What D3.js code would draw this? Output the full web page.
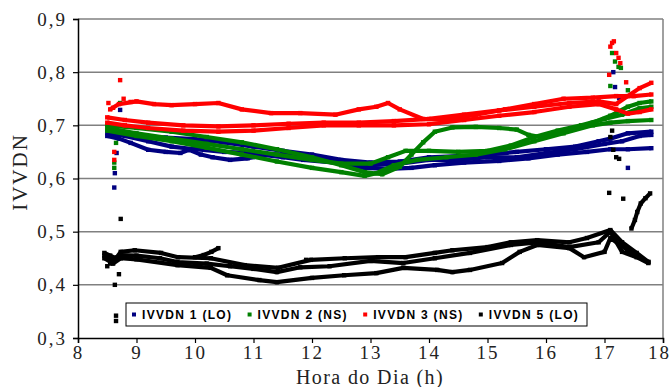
<!DOCTYPE html>
<html>
<head>
<meta charset="utf-8">
<script src="https://cdn.jsdelivr.net/npm/d3@7"></script>
<style>
  body { margin: 0; background: #fff; }
  svg { display: block; }
</style>
</head>
<body>
<div id="chart"></div>
<script>
// ---- data: [hour, IVVDN] ----
const seriesNames = ["IVVDN 1 (LO)", "IVVDN 2 (NS)", "IVVDN 3 (NS)", "IVVDN 5 (LO)"];
const seriesColors = ["#000080", "#008000", "#ff0000", "#000000"];
const xTicks = [8, 9, 10, 11, 12, 13, 14, 15, 16, 17, 18];
const yTicks = [0.3, 0.4, 0.5, 0.6, 0.7, 0.8, 0.9];

// IVVDN 1 (LO), three days
const blueDay1 = [[8.5,0.69],[8.7,0.685],[9.0,0.68],[9.5,0.677],[10.0,0.674],[10.5,0.668],[11.0,0.66],[11.5,0.652],[12.0,0.645],[12.5,0.635],[13.0,0.63],[13.5,0.632],[14.0,0.64],[14.5,0.642],[15.0,0.645],[15.5,0.65],[16.0,0.655],[16.5,0.66],[16.9,0.67],[17.1,0.675],[17.4,0.685],[17.8,0.688]];
const blueDay2 = [[8.5,0.68],[8.7,0.675],[8.9,0.667],[9.2,0.654],[9.5,0.65],[9.75,0.648],[9.9,0.654],[10.1,0.645],[10.3,0.64],[10.6,0.635],[10.9,0.638],[11.2,0.644],[11.5,0.64],[11.85,0.635],[12.4,0.63],[12.9,0.62],[13.3,0.618],[13.7,0.62],[14.1,0.625],[14.6,0.63],[15.2,0.633],[15.7,0.638],[16.2,0.645],[16.7,0.65],[17.1,0.655],[17.4,0.655],[17.8,0.657]];
const blueDay3 = [[8.5,0.685],[8.8,0.68],[9.2,0.67],[9.6,0.66],[10.0,0.655],[10.5,0.65],[11.0,0.648],[11.5,0.645],[12.0,0.64],[12.5,0.632],[13.0,0.625],[13.5,0.628],[14.0,0.635],[14.5,0.635],[15.0,0.64],[15.5,0.64],[16.0,0.648],[16.5,0.655],[17.0,0.665],[17.3,0.67],[17.6,0.68],[17.8,0.682]];
const blueLoose = [[8.62,0.583],[8.63,0.61],[8.66,0.648],[8.72,0.729],[17.15,0.8],[17.18,0.772],[17.25,0.751],[17.4,0.62]];

// IVVDN 2 (NS)
const greenDay1 = [[8.5,0.70],[9.0,0.695],[9.6,0.688],[10.2,0.678],[10.8,0.668],[11.4,0.655],[12.0,0.64],[12.5,0.625],[12.9,0.612],[13.2,0.608],[13.5,0.622],[13.7,0.645],[13.9,0.668],[14.1,0.688],[14.4,0.696],[14.8,0.697],[15.2,0.695],[15.5,0.692],[15.7,0.682],[15.9,0.678],[16.2,0.688],[16.5,0.695],[16.8,0.705],[17.1,0.718],[17.4,0.735],[17.6,0.742],[17.8,0.745]];
const greenDay2 = [[8.5,0.695],[9.0,0.685],[9.6,0.675],[10.2,0.665],[10.8,0.655],[11.4,0.645],[12.0,0.635],[12.5,0.628],[13.0,0.628],[13.3,0.64],[13.6,0.652],[14.0,0.652],[14.5,0.65],[15.0,0.652],[15.4,0.662],[15.8,0.678],[16.2,0.69],[16.6,0.70],[17.0,0.712],[17.3,0.72],[17.6,0.732],[17.8,0.735]];
const greenDay3 = [[8.5,0.69],[9.0,0.68],[9.6,0.67],[10.2,0.658],[10.8,0.645],[11.4,0.632],[12.0,0.62],[12.5,0.612],[12.9,0.605],[13.1,0.61],[13.4,0.625],[13.8,0.635],[14.3,0.64],[14.8,0.645],[15.3,0.655],[15.8,0.67],[16.3,0.685],[16.8,0.70],[17.1,0.705],[17.4,0.708],[17.8,0.71]];
const greenLoose = [[8.62,0.62],[8.62,0.63],[8.65,0.667],[8.72,0.742],[17.13,0.836],[17.18,0.82],[17.24,0.81],[17.28,0.808],[17.1,0.774],[17.4,0.766]];

// IVVDN 3 (NS)
const redDay1 = [[8.55,0.73],[8.7,0.74],[9.0,0.745],[9.3,0.74],[9.6,0.738],[10.0,0.74],[10.4,0.742],[10.8,0.73],[11.3,0.723],[11.8,0.723],[12.4,0.72],[12.8,0.73],[13.1,0.735],[13.3,0.742],[13.5,0.73],[13.9,0.712],[14.3,0.71],[14.8,0.72],[15.3,0.73],[15.8,0.74],[16.3,0.75],[16.8,0.752],[17.2,0.755],[17.5,0.755],[17.8,0.758]];
const redDay2 = [[8.5,0.715],[8.8,0.71],[9.2,0.705],[9.8,0.70],[10.4,0.698],[11.0,0.70],[11.6,0.703],[12.2,0.705],[12.8,0.705],[13.4,0.708],[14.0,0.712],[14.6,0.72],[15.2,0.728],[15.8,0.735],[16.4,0.742],[16.9,0.745],[17.2,0.74],[17.4,0.755],[17.6,0.77],[17.8,0.78]];
const redDay3 = [[8.5,0.705],[8.8,0.70],[9.2,0.695],[9.8,0.69],[10.4,0.688],[11.0,0.69],[11.6,0.695],[12.2,0.70],[12.8,0.70],[13.4,0.70],[14.0,0.702],[14.6,0.71],[15.2,0.718],[15.8,0.725],[16.4,0.735],[16.9,0.74],[17.2,0.73],[17.4,0.722],[17.6,0.725],[17.8,0.73]];
const redLoose = [[8.62,0.635],[8.62,0.65],[8.72,0.785],[8.52,0.742],[8.6,0.733],[8.78,0.75],[8.9,0.744],[17.13,0.855],[17.16,0.858],[17.1,0.848],[17.2,0.836],[17.24,0.827],[17.27,0.817],[17.08,0.795],[17.37,0.781]];

// IVVDN 5 (LO)
const blackDay1 = [[8.45,0.46],[8.55,0.455],[8.65,0.45],[8.73,0.462],[8.97,0.465],[9.42,0.46],[9.71,0.452],[10.27,0.45],[10.85,0.437],[11.42,0.432],[11.98,0.447],[12.56,0.45],[13.13,0.452],[13.6,0.452],[14.1,0.46],[14.4,0.465],[15.0,0.471],[15.4,0.48],[15.85,0.484],[16.4,0.48],[16.7,0.488],[17.1,0.503],[17.3,0.48],[17.55,0.46],[17.75,0.443]];
const blackDay2 = [[8.45,0.455],[8.6,0.445],[8.73,0.456],[9.0,0.455],[9.4,0.45],[9.7,0.443],[10.2,0.44],[10.6,0.435],[11.0,0.43],[11.4,0.424],[11.8,0.433],[12.3,0.435],[13.0,0.445],[13.56,0.441],[14.1,0.45],[14.7,0.46],[15.4,0.475],[15.85,0.48],[16.4,0.471],[16.9,0.48],[17.1,0.50],[17.3,0.462],[17.55,0.452],[17.75,0.441]];
const blackDay3 = [[8.45,0.45],[8.6,0.44],[8.73,0.45],[9.0,0.448],[9.7,0.437],[10.27,0.432],[10.55,0.418],[11.1,0.409],[11.4,0.405],[12.0,0.413],[12.55,0.418],[13.1,0.422],[13.56,0.432],[14.14,0.428],[14.4,0.424],[14.7,0.428],[15.25,0.441],[15.55,0.462],[15.85,0.475],[16.4,0.469],[16.65,0.452],[17.0,0.462],[17.1,0.488],[17.4,0.465],[17.75,0.443]];
const blackBump = [[10.0,0.452],[10.15,0.456],[10.28,0.462],[10.4,0.469]];
const blackTail = [[17.46,0.506],[17.52,0.522],[17.56,0.537],[17.62,0.553],[17.7,0.563],[17.78,0.572]];
const blackLoose = [[8.73,0.524],[8.63,0.40],[8.7,0.42],[8.65,0.342],[8.65,0.332],[8.5,0.435],[8.55,0.44],
  [11.9,0.447],[17.13,0.69],[17.1,0.678],[17.15,0.654],[17.2,0.64],[17.25,0.637],[17.08,0.573],[17.32,0.562]];

const seriesDays = [
  [blueDay1, blueDay2, blueDay3],
  [greenDay1, greenDay2, greenDay3],
  [redDay1, redDay2, redDay3],
  [blackDay1, blackDay2, blackDay3, blackBump, blackTail]
];
const seriesLoose = [blueLoose, greenLoose, redLoose, blackLoose];

// ---- layout ----
const W = 671, H = 387;
const plot = { left: 78, right: 663, top: 19, bottom: 338 };
const serif = "'Liberation Serif', 'Times New Roman', serif";

const svg = d3.select("#chart").append("svg")
    .attr("width", W)
    .attr("height", H);

const x = d3.scaleLinear().domain([8, 18]).range([plot.left, plot.right]);
const y = d3.scaleLinear().domain([0.3, 0.9]).range([plot.bottom, plot.top]);

const commaFmt = d => d3.format(".1f")(d).replace(".", ",");

// gridlines
svg.append("g")
  .selectAll("line")
  .data(yTicks.filter(d => d > 0.3))
  .join("line")
    .attr("x1", plot.left).attr("x2", plot.right)
    .attr("y1", d => y(d)).attr("y2", d => y(d))
    .attr("stroke", "#808080")
    .attr("stroke-width", 1.5);

// right border
svg.append("line")
    .attr("x1", plot.right).attr("x2", plot.right)
    .attr("y1", plot.top).attr("y2", plot.bottom)
    .attr("stroke", "#808080")
    .attr("stroke-width", 1.5);

// series
const line = d3.line()
    .x(d => x(d[0]))
    .y(d => y(d[1]));

seriesDays.forEach((days, i) => {
  const g = svg.append("g").attr("class", "series-" + i);
  g.selectAll("path")
    .data(days)
    .join("path")
      .attr("fill", "none")
      .attr("stroke", seriesColors[i])
      .attr("stroke-width", 4.2)
      .attr("stroke-linejoin", "round")
      .attr("d", line);
  g.selectAll("rect")
    .data(days.flat().concat(seriesLoose[i]))
    .join("rect")
      .attr("x", d => x(d[0]) - 2.2)
      .attr("y", d => y(d[1]) - 2.2)
      .attr("width", 4.4)
      .attr("height", 4.4)
      .attr("fill", seriesColors[i]);
});

// axes
const yAxis = svg.append("g")
    .attr("transform", `translate(${plot.left},0)`)
    .call(d3.axisLeft(y).tickValues(yTicks).tickFormat(commaFmt).tickSize(5).tickPadding(6));

const xAxis = svg.append("g")
    .attr("transform", `translate(0,${plot.bottom})`)
    .call(d3.axisBottom(x).tickValues(xTicks).tickFormat(d3.format("d")).tickSize(5).tickPadding(3));

[yAxis, xAxis].forEach(a => {
  a.attr("font-family", serif).attr("font-size", 19);
  a.select(".domain").attr("stroke", "#000").attr("stroke-width", 1.5);
  a.selectAll(".tick line").attr("stroke", "#000").attr("stroke-width", 1.2);
  a.selectAll(".tick text")
    .attr("fill", "#222")
    .attr("font-family", serif)
    .style("font-family", serif)
    .style("font-size", "19px")
    .style("letter-spacing", "2px");
});
// last x label sits slightly inside the frame, as in the original
xAxis.selectAll(".tick text").filter(d => d === 18).attr("dx", -4);

// axis titles
svg.append("text")
    .attr("transform", "translate(27,172) rotate(-90)")
    .attr("text-anchor", "middle")
    .attr("fill", "#222")
    .style("font-family", serif)
    .style("font-size", "21px")
    .style("letter-spacing", "2px")
    .text("IVVDN");

svg.append("text")
    .attr("x", 370)
    .attr("y", 384)
    .attr("text-anchor", "middle")
    .attr("fill", "#222")
    .style("font-family", serif)
    .style("font-size", "20px")
    .style("letter-spacing", "1.4px")
    .text("Hora do Dia (h)");

// legend
const legend = svg.append("g");
legend.append("rect")
    .attr("x", 126).attr("y", 303)
    .attr("width", 461).attr("height", 23)
    .attr("fill", "#fff")
    .attr("stroke", "#000")
    .attr("stroke-width", 1);

const items = legend.selectAll("g.item")
  .data(seriesNames)
  .join("g")
    .attr("class", "item")
    .attr("transform", (d, i) => `translate(${134 + i * 115.6},314.5)`);

items.append("rect")
    .attr("x", -2).attr("y", -2)
    .attr("width", 4).attr("height", 4)
    .attr("fill", (d, i) => seriesColors[i]);

items.append("text")
    .attr("x", 8)
    .attr("y", 4.5)
    .style("font-family", "'Liberation Sans', Arial, sans-serif")
    .style("font-weight", "bold")
    .style("font-size", "12px")
    .style("letter-spacing", "1.3px")
    .text(d => d);
</script>
</body>
</html>
